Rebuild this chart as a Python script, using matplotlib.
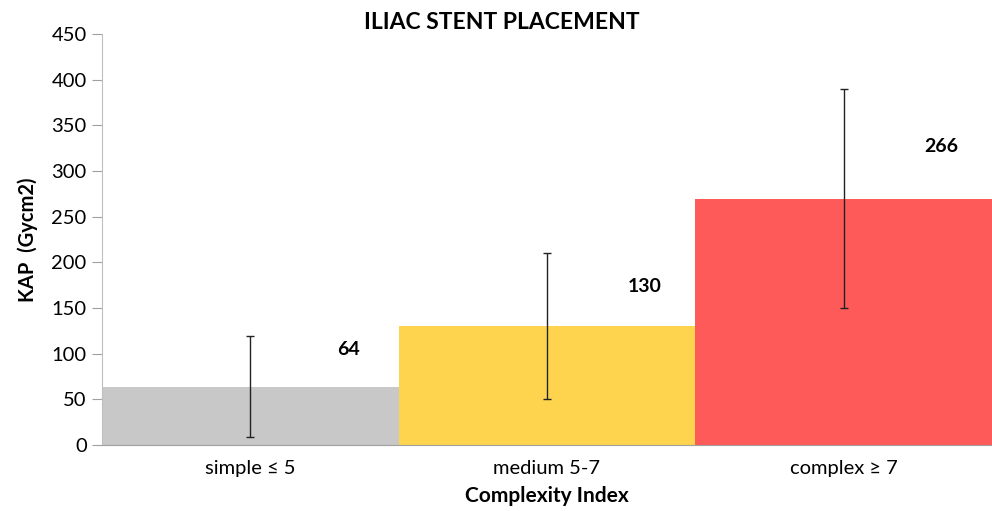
import matplotlib.pyplot as plt
import numpy as np

plt.rcParams["font.family"] = ["Lato", "DejaVu Sans"]

categories = ["simple \u2264 5", "medium 5-7", "complex \u2265 7"]
kap = [64, 130, 269]
err_low = [9, 50, 150]
err_high = [119, 210, 390]
value_labels = ["64", "130", "266"]
label_y = [104, 174, 327]
colors = ["#C8C8C8", "#FED44F", "#FF5A5A"]

fig = plt.figure(figsize=(9.92, 5.11), dpi=100)
ax = fig.add_axes([0.1028, 0.1292, 0.8972, 0.8043])

x = np.arange(len(categories))
ax.bar(x, kap, width=1.0, color=colors, zorder=1)
yerr = np.array([np.array(kap) - np.array(err_low), np.array(err_high) - np.array(kap)])
ax.errorbar(x, kap, yerr=yerr, fmt="none", ecolor="#222222", elinewidth=1,
            capsize=3, capthick=1, zorder=2)

for xi, lab, ly in zip(x, value_labels, label_y):
    ax.text(xi + 0.33, ly, lab, ha="center", va="center", fontsize=14,
            fontweight="bold", color="black")

ax.set_xlim(-0.5, 2.5)
ax.set_ylim(0, 450)
ax.set_yticks(np.arange(0, 451, 50))
ax.set_xticks(x)
ax.set_xticklabels(categories, fontsize=14.5)
ax.tick_params(axis="y", labelsize=14.5, length=7, color="#A0A0A0", pad=4)
ax.tick_params(axis="x", length=0, pad=11)

for s in ["top", "right"]:
    ax.spines[s].set_visible(False)
ax.spines["left"].set_color("#BFBFBF")
ax.spines["bottom"].set_color("#A0A0A0")
ax.spines["bottom"].set_zorder(3)

ax.set_ylabel("KAP  (Gycm2)", fontsize=14.5, fontweight="bold", labelpad=10)
ax.set_xlabel("Complexity Index", fontsize=15, fontweight="bold", labelpad=6)
fig.text(0.506, 0.955, "ILIAC STENT PLACEMENT", fontsize=16.5, fontweight="bold",
         ha="center", va="center")

fig.savefig("out.png", dpi=100)
